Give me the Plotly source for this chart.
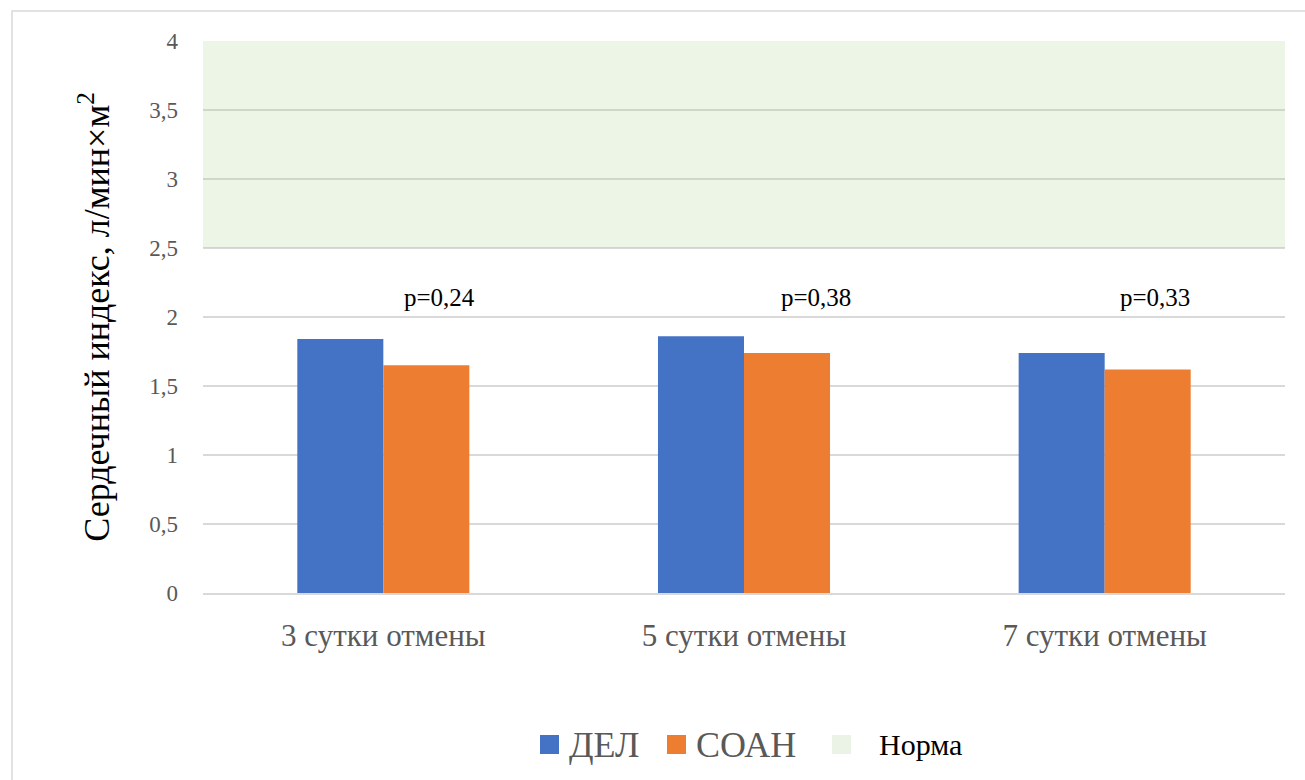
import plotly.graph_objects as go

categories = ["3 сутки отмены", "5 сутки отмены", "7 сутки отмены"]
del_values = [1.84, 1.86, 1.74]
soan_values = [1.65, 1.74, 1.62]
p_labels = ["p=0,24", "p=0,38", "p=0,33"]
p_label_x = [0.155, 1.2, 2.14]
p_label_y = 2.14
norm_low, norm_high = 2.5, 4.0
y_ticks = [0, 0.5, 1, 1.5, 2, 2.5, 3, 3.5, 4]
y_tick_text = ["0", "0,5", "1", "1,5", "2", "2,5", "3", "3,5", "4"]

SERIF = "'Liberation Serif', 'DejaVu Serif', serif"
GREY = "#595959"
BLUE = "#4472C4"
ORANGE = "#ED7D31"
NORM_FILL = "rgba(169,208,142,0.22)"
NORM_SWATCH = "#EBF3E6"

W, H = 1305, 780
ML, MR, MT, MB = 203, 20, 41, 187
pw = W - ML - MR
ph = H - MT - MB


def px_x(x):
    return (x - ML) / pw


def px_y(y):
    return (H - MB - y) / ph


fig = go.Figure()
fig.add_trace(go.Bar(x=categories, y=del_values, name="ДЕЛ",
                     marker=dict(color=BLUE, line=dict(width=0))))
fig.add_trace(go.Bar(x=categories, y=soan_values, name="СОАН",
                     marker=dict(color=ORANGE, line=dict(width=0))))

# normal range band across the full plot width
fig.add_shape(type="rect", xref="paper", yref="y", x0=0, x1=1,
              y0=norm_low, y1=norm_high, fillcolor=NORM_FILL,
              line=dict(width=0), layer="above")

for lbl, px in zip(p_labels, p_label_x):
    fig.add_annotation(x=px, y=p_label_y, xref="x", yref="y", text=lbl,
                       showarrow=False, font=dict(family=SERIF, size=25, color="#000000"))

# outer chart border
fig.add_shape(type="rect", xref="paper", yref="paper",
              x0=px_x(12), x1=px_x(W + 5), y0=px_y(H + 5), y1=px_y(11),
              line=dict(color="#D9D9D9", width=1.5), fillcolor="rgba(0,0,0,0)", layer="below")

# legend: swatch + label for each entry
legend_items = [
    ("ДЕЛ", BLUE, 540, GREY, 36),
    ("СОАН", ORANGE, 667, GREY, 36),
    ("Норма", NORM_SWATCH, 832, "#000000", 30),
]
legend_y = 745
for name, color, sx, tcolor, fsize in legend_items:
    fig.add_shape(type="rect", xref="paper", yref="paper",
                  x0=px_x(sx), x1=px_x(sx + 19), y0=px_y(legend_y + 9), y1=px_y(legend_y - 10),
                  fillcolor=color, line=dict(width=0))
    tx = sx + 27 if name != "Норма" else sx + 45
    fig.add_annotation(xref="paper", yref="paper", x=px_x(tx), y=px_y(legend_y),
                       xanchor="left", yanchor="middle", text=name, showarrow=False,
                       font=dict(family=SERIF, size=fsize, color=tcolor))

fig.update_layout(
    width=W, height=H,
    margin=dict(l=ML, r=MR, t=MT, b=MB),
    paper_bgcolor="white", plot_bgcolor="white",
    barmode="group", bargap=0.523, bargroupgap=0,
    font=dict(family=SERIF, color=GREY),
    showlegend=False,
    xaxis=dict(type="category", showgrid=False, showline=True, linecolor="#D9D9D9",
               linewidth=1.5, ticks="", ticklabelstandoff=14,
               tickfont=dict(family=SERIF, size=31, color=GREY),
               range=[-0.5, 2.5]),
    yaxis=dict(range=[0, 4], tickvals=y_ticks, ticktext=y_tick_text,
               showgrid=True, gridcolor="#D9D9D9", gridwidth=1.5, zeroline=False,
               showline=False, ticks="", ticklabelstandoff=24,
               tickfont=dict(family=SERIF, size=23, color=GREY),
               title=dict(text="Сердечный индекс, л/мин×м<sup>2</sup>", standoff=28,
                          font=dict(family=SERIF, size=36, color="#000000"))),
)

fig.write_html("out.html")
